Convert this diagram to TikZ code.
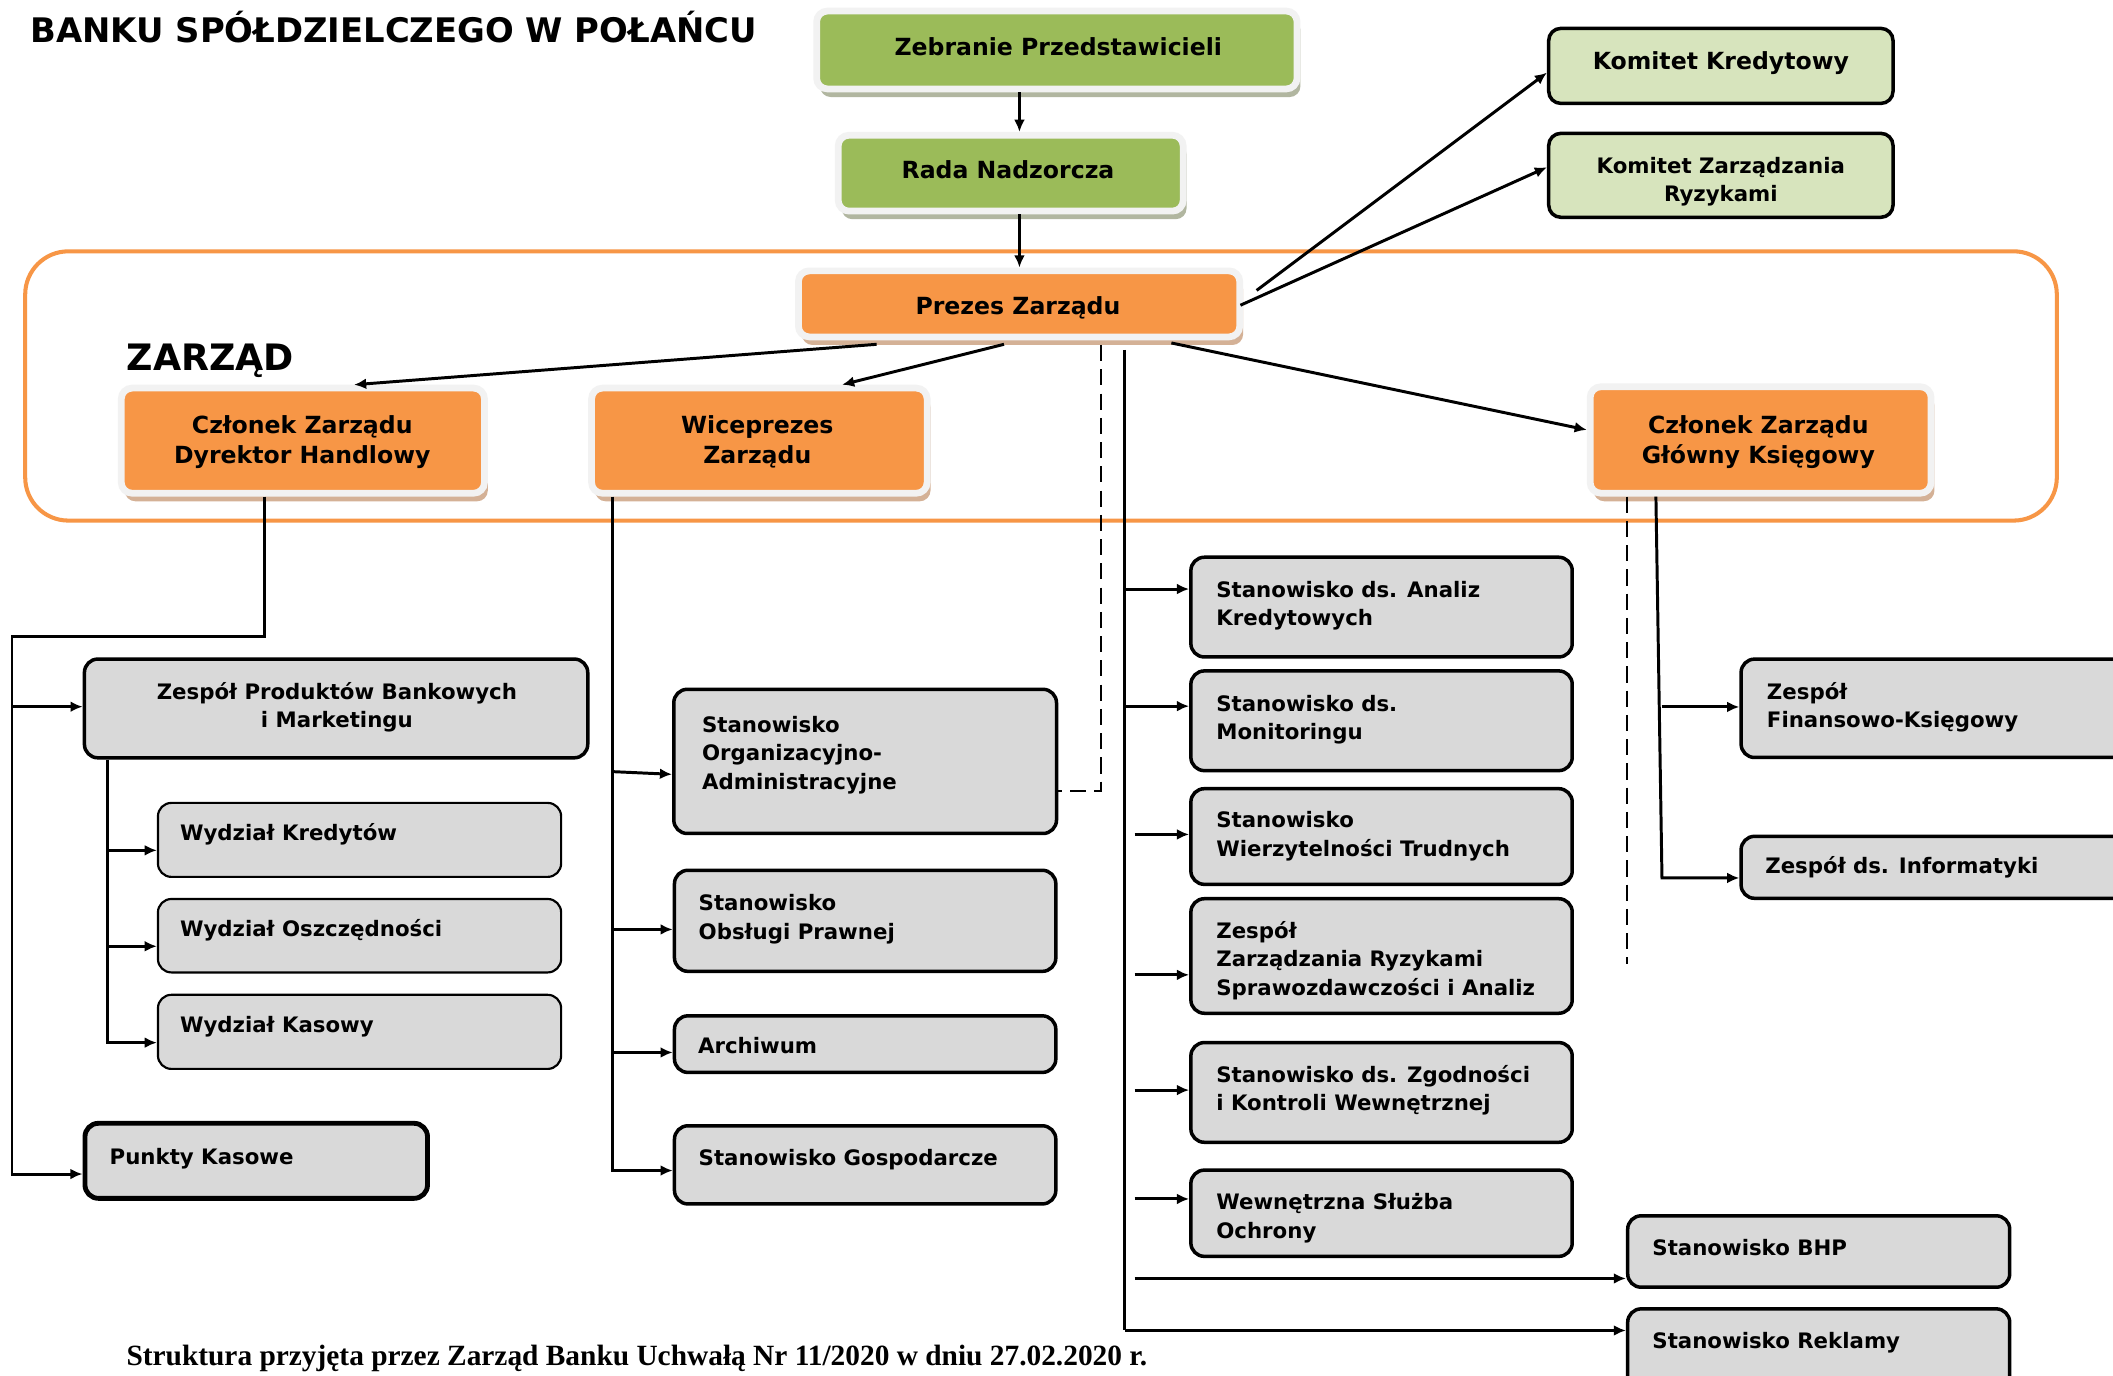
\documentclass[tikz,border=0pt]{standalone}
\usepackage{fontspec}
\usetikzlibrary{arrows.meta,shadows,calc}
\newfontfamily\vfont{DejaVu Sans}
\newfontfamily\tfont{Liberation Serif}
\definecolor{og}{HTML}{F79646}
\definecolor{gr}{HTML}{9BBB59}
\definecolor{lgr}{HTML}{D7E4BD}
\definecolor{gy}{HTML}{D9D9D9}
\definecolor{framec}{HTML}{F2F2F2}
\definecolor{oshadow}{HTML}{D0A98B}
\definecolor{gshadow}{HTML}{A9AF96}
\begin{document}
\begin{tikzpicture}[x=1pt,y=-1pt,
  topbox/.style={draw=framec, line width=5pt, rounded corners=8pt, inner sep=0pt},
  obox/.style={topbox, fill=og, drop shadow={shadow xshift=2.5pt, shadow yshift=-6pt, fill=oshadow, opacity=0.9}},
  gbox/.style={topbox, fill=gr, drop shadow={shadow xshift=2.5pt, shadow yshift=-6pt, fill=gshadow, opacity=0.9}},
  kbox/.style={draw=black, fill=lgr, line width=2.6pt, rounded corners=9pt, inner sep=0pt},
  graybox/.style={draw=black, fill=gy, line width=2.6pt, rounded corners=10pt, inner sep=0pt},
  thinbox/.style={graybox, line width=1.6pt},
  thickbox/.style={graybox, line width=3.6pt},
  bigtxt/.style={inner sep=0pt, font=\vfont\bfseries\fontsize{17.5}{22.2}\selectfont, align=center, anchor=north},
  smtxt/.style={inner sep=0pt, font=\vfont\bfseries\fontsize{15.8}{21}\selectfont, align=left, anchor=north west},
  conn/.style={line width=2.2pt, draw=black},
  arr/.style={conn, -{Latex[length=9pt,width=8pt]}},
  dsh/.style={line width=1.2pt, draw=black, dash pattern=on 12pt off 6pt}
]
\clip (0,0) rectangle (1568,1021);
\fill[white] (0,0) rectangle (1568,1021);

% container
\node[draw=og, line width=3pt, rounded corners=32pt, minimum width=1507.6pt, minimum height=199.8pt, inner sep=0pt] (zarzad) at (772.5,286.4) {};

% titles
\node[inner sep=0pt, anchor=base west, font=\vfont\bfseries\fontsize{25.1}{28}\selectfont] (title) at (22.5,31.7) {BANKU SPÓŁDZIELCZEGO W POŁAŃCU};
\node[inner sep=0pt, anchor=base west, font=\vfont\bfseries\fontsize{27}{30}\selectfont] (zlabel) at (93.8,274.6) {ZARZĄD};
\node[inner sep=0pt, anchor=base west, font=\tfont\bfseries\fontsize{21.8}{24}\selectfont] (footer) at (93.7,1013.5) {Struktura przyjęta przez Zarząd Banku Uchwałą Nr 11/2020 w dniu 27.02.2020 r.};

% top boxes
\node[gbox, minimum width=356.5pt, minimum height=57.8pt] (zeb) at (784.25,37.1) {};
\node[gbox, minimum width=256pt, minimum height=56.3pt] (rada) at (750,128.5) {};
\node[obox, minimum width=327.5pt, minimum height=49pt] (prezes) at (756.25,225.5) {};
\node[obox, minimum width=269.5pt, minimum height=78pt] (dyr) at (224.75,327) {};
\node[obox, minimum width=249pt, minimum height=78pt] (wice) at (563.5,327) {};
\node[obox, minimum width=253pt, minimum height=79pt] (gk) at (1306.5,326.5) {};
\node[kbox, minimum width=255.5pt, minimum height=55.7pt] (kk) at (1277,48.9) {};
\node[kbox, minimum width=255.5pt, minimum height=62.3pt] (kzr) at (1277,130.1) {};

\node[bigtxt] (zeb-t) at (785.3,23.5) {\rule{0pt}{17.5pt}Zebranie Przedstawicieli};
\node[bigtxt] (rada-t) at (748,114.9) {\rule{0pt}{17.5pt}Rada Nadzorcza};
\node[bigtxt] (prezes-t) at (755.4,215.7) {\rule{0pt}{17.5pt}Prezes Zarządu};
\node[bigtxt] (dyr-t) at (224.3,304.1) {\rule{0pt}{17.5pt}Członek Zarządu\\Dyrektor Handlowy};
\node[bigtxt] (wice-t) at (562,304.1) {\rule{0pt}{17.5pt}Wiceprezes\\Zarządu};
\node[bigtxt] (gk-t) at (1304.8,304.1) {\rule{0pt}{17.5pt}Członek Zarządu\\Główny Księgowy};
\node[bigtxt] (kk-t) at (1277,33.9) {\rule{0pt}{17.5pt}Komitet Kredytowy};
\node[smtxt, align=center, anchor=north] (kzr-t) at (1277,112.4) {\rule{0pt}{15.8pt}Komitet Zarządzania\\Ryzykami};

% gray boxes
\node[graybox, minimum width=373.5pt, minimum height=73.3pt] (zp) at (249.4,525.7) {};
\node[thinbox, minimum width=299.2pt, minimum height=54.9pt] (wk) at (266.8,623.25) {};
\node[thinbox, minimum width=299.2pt, minimum height=54.5pt] (wo) at (266.8,694.35) {};
\node[thinbox, minimum width=299.2pt, minimum height=55pt] (wka) at (266.8,765.7) {};
\node[thickbox, minimum width=254.2pt, minimum height=55.7pt] (pk) at (190.15,861.4) {};
\node[graybox, minimum width=284pt, minimum height=107pt] (oa) at (642,565) {};
\node[graybox, minimum width=283pt, minimum height=75pt] (op) at (642,683.3) {};
\node[graybox, minimum width=283pt, minimum height=42pt] (ar) at (642,774.8) {};
\node[graybox, minimum width=283pt, minimum height=58pt] (sg) at (642,864.4) {};
\node[graybox, minimum width=283pt, minimum height=74pt] (an) at (1025.2,450.5) {};
\node[graybox, minimum width=283pt, minimum height=74pt] (mo) at (1025.2,534.85) {};
\node[graybox, minimum width=283pt, minimum height=71pt] (wt) at (1025.2,620.75) {};
\node[graybox, minimum width=283pt, minimum height=85pt] (zr) at (1025.2,709.4) {};
\node[graybox, minimum width=283pt, minimum height=74pt] (zg) at (1025.2,810.65) {};
\node[graybox, minimum width=283pt, minimum height=64pt] (oc) at (1025.2,900.3) {};
\node[graybox, minimum width=283.5pt, minimum height=53pt] (bhp) at (1349.6,928.7) {};
\node[graybox, minimum width=283.5pt, minimum height=67.5pt] (rek) at (1349.6,1005) {};
\node[graybox, minimum width=327pt, minimum height=73pt] (fk) at (1455.5,525.6) {};
\node[graybox, minimum width=327pt, minimum height=46pt] (inf) at (1455.5,643.6) {};

\node[smtxt, align=center, anchor=north] (zp-t) at (250,502.8) {\rule{0pt}{15.8pt}Zespół Produktów Bankowych\\i Marketingu};
\node[smtxt] (wk-t) at (133.4,607.7) {\rule{0pt}{15.8pt}Wydział Kredytów};
\node[smtxt] (wo-t) at (133.4,678.6) {\rule{0pt}{15.8pt}Wydział Oszczędności};
\node[smtxt] (wka-t) at (133.4,750) {\rule{0pt}{15.8pt}Wydział Kasowy};
\node[smtxt] (pk-t) at (81.2,848.3) {\rule{0pt}{15.8pt}Punkty Kasowe};
\node[smtxt] (oa-t) at (520.8,527.5) {\rule{0pt}{15.8pt}Stanowisko\\Organizacyjno-\\Administracyjne};
\node[smtxt] (op-t) at (518.3,660) {\rule{0pt}{15.8pt}Stanowisko\\Obsługi Prawnej};
\node[smtxt] (ar-t) at (517.8,765.9) {\rule{0pt}{15.8pt}Archiwum};
\node[smtxt] (sg-t) at (518.3,848.9) {\rule{0pt}{15.8pt}Stanowisko Gospodarcze};
\node[smtxt] (an-t) at (902.4,427.4) {\rule{0pt}{15.8pt}Stanowisko ds. Analiz\\Kredytowych};
\node[smtxt] (mo-t) at (902.4,512) {\rule{0pt}{15.8pt}Stanowisko ds.\\Monitoringu};
\node[smtxt] (wt-t) at (902.4,598.4) {\rule{0pt}{15.8pt}Stanowisko\\Wierzytelności Trudnych};
\node[smtxt] (zr-t) at (902.4,680.5) {\rule{0pt}{15.8pt}Zespół\\Zarządzania Ryzykami\\Sprawozdawczości i Analiz};
\node[smtxt] (zg-t) at (902.4,787) {\rule{0pt}{15.8pt}Stanowisko ds. Zgodności\\i Kontroli Wewnętrznej};
\node[smtxt] (oc-t) at (902.4,881.7) {\rule{0pt}{15.8pt}Wewnętrzna Służba\\Ochrony};
\node[smtxt] (bhp-t) at (1226,915.9) {\rule{0pt}{15.8pt}Stanowisko BHP};
\node[smtxt] (rek-t) at (1226,984.4) {\rule{0pt}{15.8pt}Stanowisko Reklamy};
\node[smtxt] (fk-t) at (1311,502.7) {\rule{0pt}{15.8pt}Zespół\\Finansowo-Księgowy};
\node[smtxt] (inf-t) at (1309.8,632.5) {\rule{0pt}{15.8pt}Zespół ds. Informatyki};

% connectors: top chain
\coordinate (zx) at (756.5,0);
\draw[arr] (zx |- zeb.south) -- (zx |- rada.north);
\draw[arr] (zx |- rada.south) -- (zx |- prezes.north);
\draw[arr] ($(prezes.east)+(10,-10)$) -- ($(kk.west)+(0,5)$);
\draw[arr] ($(prezes.east)+(-2,1)$) -- ($(kzr.west)+(0,-6)$);
\draw[arr] ($(prezes.south)+(-105.75,3)$) -- ($(dyr.north)+(38,0)$);
\draw[arr] ($(prezes.south)+(-11.25,3)$) -- ($(wice.north)+(61.4,0)$);
\draw[arr] ($(prezes.south)+(113,2)$) -- ($(gk.west)+(0,-7.5)$);

% trunk of Prezes
\coordinate (trT) at (834.8,259.7);
\coordinate (trB) at (834.8,987.3);
\draw[conn] (trT) -- (trB);
\draw[arr] (trB) -- (trB -| rek.west);
\coordinate (a1) at (834.8,437.1);
\coordinate (a2) at (834.8,524);
\coordinate (a3) at (842,619.2);
\coordinate (a4) at (842,723.4);
\coordinate (a5) at (842,808.9);
\coordinate (a6) at (842,889.7);
\coordinate (a7) at (842,948.7);
\draw[arr] (a1) -- (a1 -| an.west);
\draw[arr] (a2) -- (a2 -| mo.west);
\draw[arr] (a3) -- (a3 -| wt.west);
\draw[arr] (a4) -- (a4 -| zr.west);
\draw[arr] (a5) -- (a5 -| zg.west);
\draw[arr] (a6) -- (a6 -| oc.west);
\draw[arr] (a7) -- (a7 -| bhp.west);

% dashed from Prezes
\coordinate (d1) at (816.8,256);
\coordinate (d2) at (816.8,587);
\draw[dsh] (d1) -- (d2) -- (d2 -| oa.east);

% Dyrektor Handlowy branch
\coordinate (b1) at (196.6,0);
\coordinate (b2) at (196.6,472.5);
\coordinate (b3) at (8.9,472.5);
\coordinate (b4) at (8.9,871.2);
\coordinate (b5) at (8.9,524.4);
\draw[arr] (b1 |- dyr.south) -- (b2) -- (b3) -- (b4) -- (b4 -| pk.west);
\draw[arr] (b5) -- (b5 -| zp.west);

% Zespol Produktow branch
\coordinate (c0) at (79.6,0);
\coordinate (c1) at (79.6,631);
\coordinate (c2) at (79.6,702.2);
\coordinate (c3) at (79.6,773.7);
\draw[arr] (c0 |- zp.south) -- (c3) -- (c3 -| wka.west);
\draw[arr] (c1) -- (c1 -| wk.west);
\draw[arr] (c2) -- (c2 -| wo.west);

% Wiceprezes branch
\coordinate (e0) at (454.3,0);
\coordinate (e1) at (454.6,572.6);
\coordinate (e2) at (454.3,689.7);
\coordinate (e3) at (454.3,781);
\coordinate (e4) at (454.3,868.6);
\draw[arr] (e0 |- wice.south) -- (e4) -- (e4 -| sg.west);
\draw[arr] (e1) -- ($(oa.west)+(0,9.6)$);
\draw[arr] (e2) -- (e2 -| op.west);
\draw[arr] (e3) -- (e3 -| ar.west);

% Glowny Ksiegowy branch
\coordinate (g0) at (1228.8,0);
\coordinate (g1) at (1233,524.6);
\coordinate (g2) at (1233.3,651.5);
\draw[arr] (g0 |- gk.south) -- (g2) -- (g2 -| inf.west);
\draw[arr] (g1) -- (g1 -| fk.west);
\coordinate (h0) at (1207.5,0);
\coordinate (h1) at (1207.5,715.4);
\draw[dsh] (h0 |- gk.south) -- (h1);
\end{tikzpicture}
\end{document}
